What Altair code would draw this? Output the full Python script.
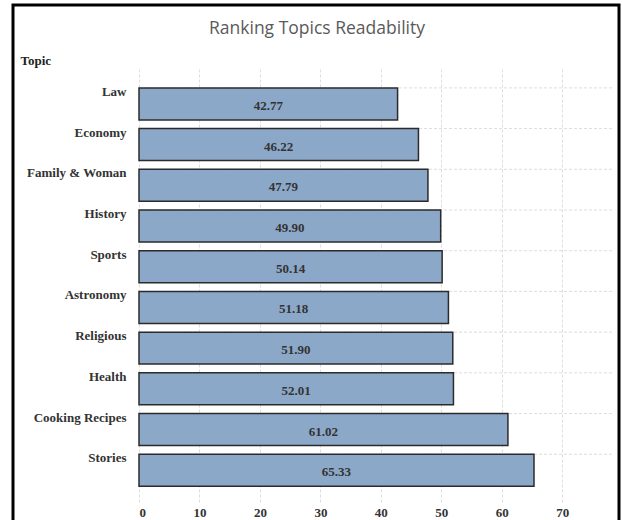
import altair as alt
import pandas as pd

topics = ["Law", "Economy", "Family & Woman", "History", "Sports",
          "Astronomy", "Religious", "Health", "Cooking Recipes", "Stories"]
scores = [42.77, 46.22, 47.79, 49.90, 50.14, 51.18, 51.90, 52.01, 61.02, 65.33]
labels = ["42.77", "46.22", "47.79", "49.90", "50.14", "51.18", "51.90", "52.01", "61.02", "65.33"]
x_ticks = [0, 5, 10, 15, 20, 25, 30, 35, 40, 45, 50, 55, 60, 65, 70]

df = pd.DataFrame({"Topic": topics, "Score": scores, "Label": labels})

SERIF = "Liberation Serif"

y_scale = alt.Scale(domain=topics, paddingInner=0.214, paddingOuter=0.45, align=0.57)
x_scale = alt.Scale(domain=[0, 78.4], nice=False, zero=True)

hgrid = alt.Chart(df).mark_rule(
    color="#dddddd", strokeDash=[3, 2], strokeWidth=1
).encode(
    y=alt.Y("Topic:N", scale=y_scale, sort=topics, bandPosition=0),
    x=alt.value(0), x2=alt.value(474),
)

bars = alt.Chart(df).mark_bar(
    color="#8CA8C9", stroke="#2b2b2b", strokeWidth=1.5
).encode(
    y=alt.Y("Topic:N", scale=y_scale, sort=topics,
            axis=alt.Axis(title="Topic", titleAngle=0, titleAlign="left",
                          titleBaseline="middle", titleX=-119, titleY=-7,
                          titleFont=SERIF, titleFontSize=13, titleFontWeight="bold",
                          titleColor="#222",
                          labelFont=SERIF, labelFontSize=13, labelFontWeight="bold",
                          labelColor="#333", labelPadding=13, labelBaseline="middle",
                          labelOffset=-12,
                          ticks=False, domain=False, grid=False)),
    x=alt.X("Score:Q", scale=x_scale,
            axis=alt.Axis(title=None, values=x_ticks,
                          labelExpr="datum.value % 10 == 0 ? datum.label : ''",
                          labelFont=SERIF, labelFontSize=13, labelFontWeight="bold",
                          labelColor="#333", labelPadding=4,
                          ticks=False, domain=False,
                          grid=True, gridColor="#dddddd", gridDash=[3, 2])),
)

text = alt.Chart(df).transform_calculate(
    mid="datum.Score / 2"
).mark_text(
    font=SERIF, fontSize=13, fontWeight="bold", color="#333",
    align="center", baseline="middle", dy=2
).encode(
    y=alt.Y("Topic:N", scale=y_scale, sort=topics, bandPosition=0.5),
    x=alt.X("mid:Q", scale=x_scale),
    text="Label:N",
)

frame = alt.Chart(pd.DataFrame({"a": [0]})).mark_rect(
    fillOpacity=0, stroke="#000000", strokeWidth=3
).encode(
    x=alt.value(-126), x2=alt.value(480),
    y=alt.value(-62), y2=alt.value(456),
)

chart = alt.layer(hgrid, bars, text, frame).properties(
    width=474, height=435,
    background="white",
    title=alt.Title("Ranking Topics Readability", anchor="middle", frame="group",
                    dx=-59, offset=-43, baseline="middle",
                    font="Open Sans", fontSize=17.5,
                    fontWeight="normal", color="#5a5a5a"),
    autosize=alt.AutoSizeParams(type="none"),
    padding={"left": 139, "top": 67, "right": 9, "bottom": 18},
).configure_view(stroke="transparent")

chart.save("out.html", embed_options={"renderer": "svg", "actions": False})
